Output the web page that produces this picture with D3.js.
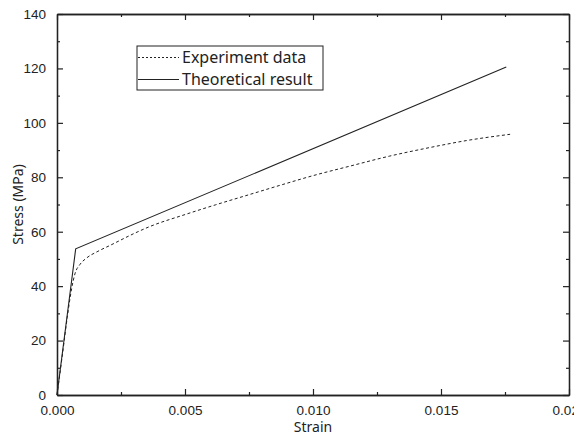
<!DOCTYPE html>
<html>
<head>
<meta charset="utf-8">
<script src="https://cdn.jsdelivr.net/npm/d3@7"></script>
<style>
  body { margin: 0; background: #fff; overflow: hidden; }
  svg { display: block; font-family: "Noto Sans", "Open Sans", sans-serif; }
  .tick-label { font-size: 13.5px; fill: #222; }
  .label { font-size: 14px; fill: #222; }
  .legend-text { font-size: 16px; fill: #222; }
</style>
</head>
<body>
<div id="container"></div>
<script>
// strain, stress (MPa)
const experimentStrain = [0, 0.0002, 0.0004, 0.00057, 0.0007, 0.0009, 0.00115, 0.0016, 0.0021, 0.003, 0.0036,
  0.005, 0.0062, 0.0075, 0.0088, 0.010, 0.0114, 0.013, 0.0146, 0.016, 0.0177];
const experimentStress = [0, 14, 28.5, 39, 44.5, 48, 50.3, 52.8, 55.1, 59.3, 61.8,
  66.3, 69.9, 73.6, 77.3, 80.6, 84.0, 87.8, 91.0, 93.5, 95.8];

const theoryStrain = [0, 0.00073, 0.01755];
const theoryStress = [0, 53.7, 120.5];

const xTicks = [0, 0.005, 0.010, 0.015, 0.020];
const xTickLabels = ['0.000', '0.005', '0.010', '0.015', '0.020'];
const yTicks = [0, 20, 40, 60, 80, 100, 120, 140];

const seriesNames = ['Experiment data', 'Theoretical result'];

const margin = { top: 14, left: 57, bottom: 41, right: 5 };
const W = 574, H = 436;
const width = W - margin.left - margin.right;
const height = H - margin.top - margin.bottom;

const xScale = d3.scaleLinear().domain([0, 0.02]).range([0, width]);
const yScale = d3.scaleLinear().domain([0, 140]).range([height, 0]);

const svg = d3.select('#container').append('svg')
  .attr('width', W).attr('height', H);
const g = svg.append('g')
  .attr('transform', 'translate(' + margin.left + ',' + margin.top + ')');

const ink = '#222';
const xMinor = d3.range(0.0025, 0.02, 0.005);
const yMinor = d3.range(10, 140, 20);

// frame with inward ticks
function addAxis(axis, transform) {
  const a = g.append('g').attr('transform', transform).call(axis);
  a.select('.domain').attr('stroke', ink).attr('stroke-width', 1.3);
  a.selectAll('.tick line').attr('stroke', ink).attr('stroke-width', 1.2);
  a.selectAll('.tick text').attr('class', 'tick-label').attr('fill', null);
  return a;
}

// bottom
addAxis(d3.axisBottom(xScale).tickValues(xTicks).tickFormat((d, i) => xTickLabels[i])
  .tickSizeInner(-6).tickSizeOuter(0).tickPadding(10), 'translate(0,' + height + ')');
addAxis(d3.axisBottom(xScale).tickValues(xMinor).tickFormat('')
  .tickSizeInner(-3).tickSizeOuter(0), 'translate(0,' + height + ')');
// top
addAxis(d3.axisTop(xScale).tickValues(xTicks).tickFormat('')
  .tickSizeInner(-6).tickSizeOuter(0), 'translate(0,0)');
addAxis(d3.axisTop(xScale).tickValues(xMinor).tickFormat('')
  .tickSizeInner(-3).tickSizeOuter(0), 'translate(0,0)');
// left
addAxis(d3.axisLeft(yScale).tickValues(yTicks)
  .tickSizeInner(-6).tickSizeOuter(0).tickPadding(11), 'translate(0,0)');
addAxis(d3.axisLeft(yScale).tickValues(yMinor).tickFormat('')
  .tickSizeInner(-3).tickSizeOuter(0), 'translate(0,0)');
// right
addAxis(d3.axisRight(yScale).tickValues(yTicks).tickFormat('')
  .tickSizeInner(-6).tickSizeOuter(0), 'translate(' + width + ',0)');
addAxis(d3.axisRight(yScale).tickValues(yMinor).tickFormat('')
  .tickSizeInner(-3).tickSizeOuter(0), 'translate(' + width + ',0)');

// axis titles
svg.append('text').attr('class', 'label')
  .attr('x', margin.left + width / 2).attr('y', H - 4)
  .attr('text-anchor', 'middle').text('Strain');
svg.append('text').attr('class', 'label')
  .attr('transform', 'translate(23,' + (margin.top + height / 2) + ') rotate(-90)')
  .attr('text-anchor', 'middle').text('Stress (MPa)');

// lines
const line = d3.line().x(d => xScale(d[0])).y(d => yScale(d[1]));
const expData = experimentStrain.map((s, i) => [s, experimentStress[i]]);
const theoryData = theoryStrain.map((s, i) => [s, theoryStress[i]]);

g.append('path').datum(expData)
  .attr('d', line.curve(d3.curveMonotoneX))
  .attr('fill', 'none').attr('stroke', ink).attr('stroke-width', 1)
  .attr('stroke-dasharray', '3,2.5');
g.append('path').datum(theoryData)
  .attr('d', line.curve(d3.curveLinear))
  .attr('fill', 'none').attr('stroke', ink).attr('stroke-width', 1.1);

// legend
const legend = svg.append('g').attr('transform', 'translate(137,46)');
legend.append('rect').attr('x', 0).attr('y', 0).attr('width', 186).attr('height', 44)
  .attr('fill', '#fff').attr('stroke', ink).attr('stroke-width', 1);
seriesNames.forEach((name, i) => {
  const y = 11.5 + i * 22;
  legend.append('line').attr('x1', 1).attr('x2', 42).attr('y1', y).attr('y2', y)
    .attr('stroke', ink).attr('stroke-width', 1)
    .attr('stroke-dasharray', i === 0 ? '2,2' : null);
  legend.append('text').attr('class', 'legend-text')
    .attr('x', 45).attr('y', y).attr('dy', '0.36em').text(name);
});
</script>
</body>
</html>
